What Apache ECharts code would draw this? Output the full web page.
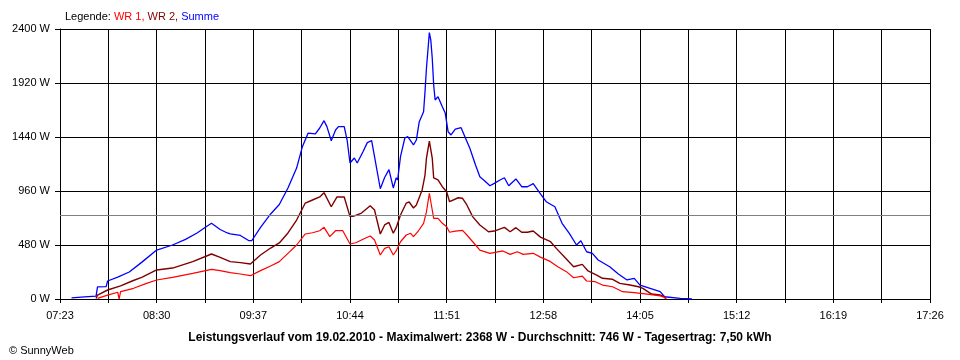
<!DOCTYPE html>
<html>
<head>
<meta charset="utf-8">
<script src="https://cdn.jsdelivr.net/npm/echarts@6/dist/echarts.min.js"></script>
<style>html,body{margin:0;padding:0;background:#fff}#c{width:960px;height:360px}</style>
</head>
<body>
<div id="c"></div>
<script>
// x tick labels (every 67 minutes starting 07:23)
var timeLabels = ['07:23','08:30','09:37','10:44','11:51','12:58','14:05','15:12','16:19','17:26'];
var yTicks = [0, 480, 960, 1440, 1920, 2400];
var averageW = 746;

var summe = [["07:31",10],["07:40",18],["07:48",25],["07:49",107],["07:55",110],["07:56",160],["08:03",195],["08:11",240],["08:20",330],["08:30",435],["08:41",480],["08:50",530],["08:58",587],["09:04",640],["09:08",673],["09:14",618],["09:19",587],["09:21",578],["09:28",565],["09:34",518],["09:36",520],["09:42",637],["09:49",756],["09:55",840],["10:01",987],["10:07",1164],["10:11",1354],["10:15",1475],["10:20",1467],["10:23",1520],["10:26",1585],["10:28",1532],["10:31",1407],["10:34",1502],["10:36",1532],["10:40",1532],["10:42",1413],["10:44",1209],["10:47",1253],["10:49",1209],["10:53",1309],["10:56",1390],["10:59",1407],["11:01",1265],["11:05",980],["11:08",1080],["11:11",1150],["11:14",987],["11:16",1076],["11:17",1058],["11:19",1265],["11:22",1431],["11:24",1443],["11:28",1369],["11:30",1413],["11:32",1576],["11:35",1665],["11:36",1843],["11:37",2053],["11:39",2368],["11:40",2302],["11:41",2142],["11:42",1902],["11:43",1769],["11:45",1798],["11:48",1709],["11:50",1653],["11:52",1487],["11:54",1458],["11:57",1511],["12:01",1523],["12:04",1431],["12:07",1342],["12:11",1191],["12:14",1087],["12:18",1043],["12:21",1007],["12:24",1028],["12:28",1058],["12:31",1078],["12:34",1007],["12:39",1067],["12:43",998],["12:47",998],["12:51",1025],["12:56",935],["13:00",865],["13:06",820],["13:11",673],["13:16",584],["13:21",480],["13:24",518],["13:28",420],["13:32",406],["13:36",347],["13:44",287],["13:50",222],["13:56",169],["14:01",184],["14:05",124],["14:12",95],["14:19",65],["14:22",20],["14:33",6],["14:41",0]];

var wr2 = [["07:48",5],["07:49",35],["07:56",80],["08:05",116],["08:13",160],["08:20",195],["08:30",258],["08:41",275],["08:55",332],["09:08",400],["09:14",370],["09:21",332],["09:28",323],["09:35",311],["09:42",391],["09:49",453],["09:55",498],["10:01",587],["10:07",702],["10:13",853],["10:18",880],["10:23",907],["10:26",945],["10:31",820],["10:35",907],["10:40",907],["10:44",732],["10:47",738],["10:52",764],["10:58",829],["11:01",791],["11:05",578],["11:08",658],["11:11",681],["11:14",584],["11:16",634],["11:17",630],["11:19",747],["11:23",853],["11:25",862],["11:28",809],["11:30",836],["11:34",969],["11:36",1102],["11:37",1253],["11:39",1404],["11:41",1253],["11:42",1076],["11:45",1058],["11:48",998],["11:51",954],["11:53",865],["11:59",900],["12:02",895],["12:05",836],["12:09",732],["12:14",658],["12:20",598],["12:24",604],["12:31",637],["12:35",598],["12:39",634],["12:43",593],["12:47",593],["12:51",604],["12:56",550],["13:03",509],["13:07",450],["13:12",382],["13:19",287],["13:25",308],["13:29",249],["13:35",213],["13:39",184],["13:46",175],["13:51",139],["13:58",124],["14:04",109],["14:07",95],["14:13",44],["14:19",35],["14:22",20],["14:23",0]];

var wr1 = [["07:49",5],["07:56",35],["08:03",60],["08:04",0],["08:05",65],["08:14",95],["08:23",139],["08:30",169],["08:41",193],["08:55",228],["09:08",264],["09:14",252],["09:21",234],["09:28",222],["09:35",207],["09:42",252],["09:49",293],["09:55",332],["10:01",406],["10:07",480],["10:13",578],["10:18",589],["10:23",607],["10:26",637],["10:30",554],["10:34",607],["10:39",607],["10:44",489],["10:48",500],["10:53",531],["10:58",560],["11:01",524],["11:05",391],["11:08",450],["11:11",465],["11:14",391],["11:16",427],["11:19",509],["11:23",569],["11:26",584],["11:28",554],["11:31",598],["11:35",673],["11:37",776],["11:39",940],["11:41",791],["11:42",717],["11:45",717],["11:48",673],["11:51",643],["11:53",593],["11:57",604],["12:02",610],["12:05",569],["12:11",480],["12:14",435],["12:21",406],["12:30",427],["12:35",397],["12:40",420],["12:44",397],["12:51",406],["12:56",372],["13:03",332],["13:08",287],["13:14",243],["13:19",189],["13:25",204],["13:28",160],["13:34",154],["13:39",124],["13:46",109],["13:53",65],["14:01",56],["14:10",44],["14:19",27],["14:22",15],["14:23",0]];

function toMin(s){var p=s.split(':');return (+p[0])*60+(+p[1]);}
var startMin = toMin(timeLabels[0]);
var endMin = toMin(timeLabels[timeLabels.length-1]);
var labelStep = toMin(timeLabels[1]) - startMin; // 67
function conv(arr){return arr.map(function(d){return [toMin(d[0])-startMin, d[1]];});}

var font = 'Liberation Sans, Arial, sans-serif';
var chart = echarts.init(document.getElementById('c'), null, {renderer:'canvas'});
chart.setOption({
  animation:false,
  backgroundColor:'#ffffff',
  title:[{
    left:60, top:6,
    text:'{k|Legende: }{a|WR 1, }{b|WR 2, }{c|Summe}',
    textStyle:{fontWeight:'normal',rich:{
      k:{color:'#000',fontSize:11,fontWeight:'normal',fontFamily:font},
      a:{color:'#ff0000',fontSize:11,fontWeight:'normal',fontFamily:font},
      b:{color:'#800000',fontSize:11,fontWeight:'normal',fontFamily:font},
      c:{color:'#0000ff',fontSize:11,fontWeight:'normal',fontFamily:font}
    }}
  },{
    left:'center', top:327,
    text:'Leistungsverlauf vom 19.02.2010 - Maximalwert: 2368 W - Durchschnitt: 746 W - Tagesertrag: 7,50 kWh',
    textStyle:{color:'#000',fontSize:12,fontWeight:'bold',fontFamily:font}
  },{
    left:4, top:340,
    text:'\u00a9 SunnyWeb',
    textStyle:{color:'#000',fontSize:11,fontWeight:'normal',fontFamily:font}
  }],
  grid:{left:60,right:30,top:29,bottom:61,containLabel:false},
  xAxis:{
    type:'value', min:0, max:endMin-startMin, interval:labelStep/2,
    axisLine:{show:true,onZero:false,lineStyle:{color:'#000',width:1}},
    axisTick:{show:true,length:4,lineStyle:{color:'#000'}},
    splitLine:{show:true,lineStyle:{color:'#000',width:1}},
    axisLabel:{color:'#000',fontSize:11,fontFamily:font,margin:11,
      formatter:function(v){var k=v/labelStep;if(Math.abs(k-Math.round(k))>1e-6)return '';return timeLabels[Math.round(k)]||'';}}
  },
  yAxis:{
    type:'value', min:yTicks[0], max:yTicks[yTicks.length-1], interval:yTicks[1]-yTicks[0],
    axisLine:{show:true,lineStyle:{color:'#000',width:1}},
    axisTick:{show:true,length:5,lineStyle:{color:'#000'}},
    splitLine:{show:true,lineStyle:{color:'#000',width:1}},
    axisLabel:{color:'#000',fontSize:11,fontFamily:font,margin:10,formatter:function(v){return v+' W';}}
  },
  series:[
    {type:'line',name:'Summe',data:conv(summe),showSymbol:false,symbol:'none',lineStyle:{color:'#0000ff',width:1.3},itemStyle:{color:'#0000ff'},
     markLine:{silent:true,symbol:['none','none'],label:{show:false},lineStyle:{color:'#808080',type:'solid',width:1},data:[{yAxis:averageW}]}},
    {type:'line',name:'WR 2',data:conv(wr2),showSymbol:false,symbol:'none',lineStyle:{color:'#800000',width:1.4},itemStyle:{color:'#800000'}},
    {type:'line',name:'WR 1',data:conv(wr1),showSymbol:false,symbol:'none',lineStyle:{color:'#ff0000',width:1.2},itemStyle:{color:'#ff0000'}}
  ]
});
</script>
</body>
</html>
